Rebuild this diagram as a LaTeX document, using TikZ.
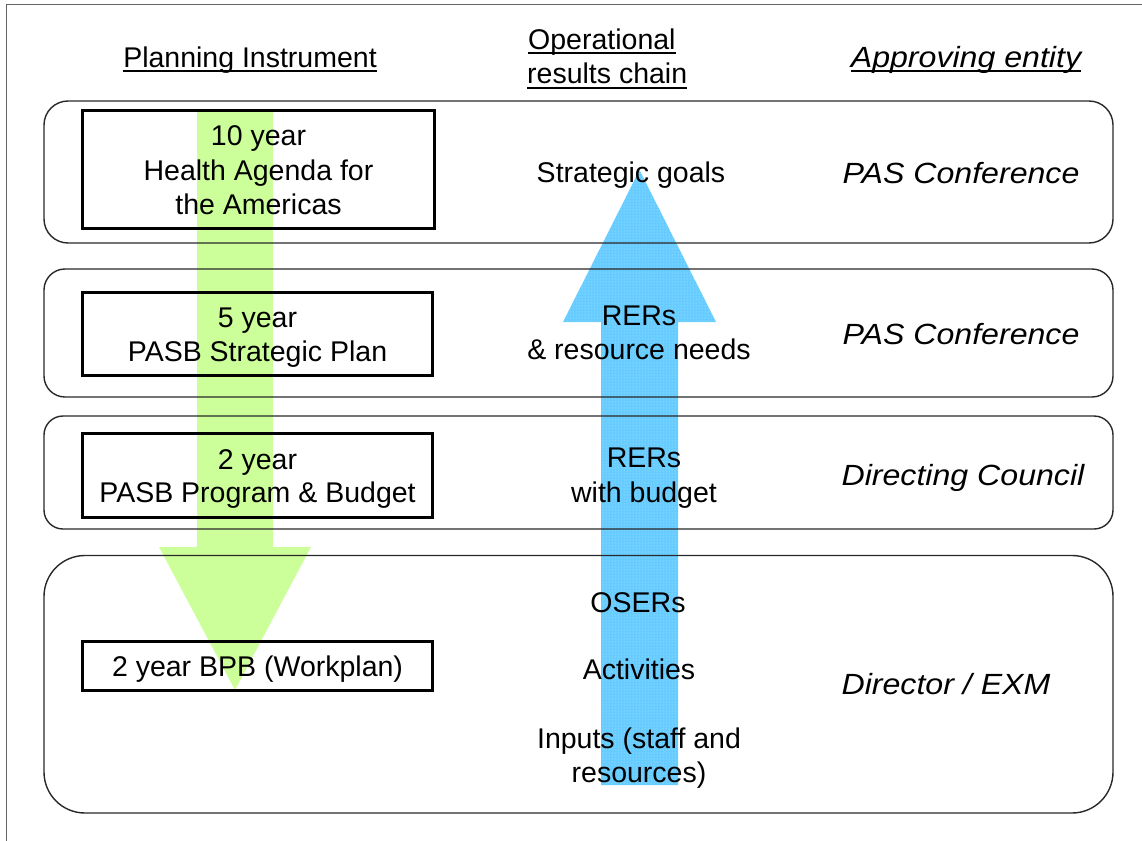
\documentclass[tikz,border=0pt]{standalone}
\usepackage{fontspec}
\setmainfont{Liberation Sans}
\usetikzlibrary{patterns}
\definecolor{greenA}{RGB}{204,255,153}
\definecolor{blueA}{RGB}{102,204,255}
\definecolor{laneC}{RGB}{40,40,40}
\definecolor{frameC}{RGB}{100,100,100}
\newcommand{\wideit}[1]{\scalebox{1.1}[1]{#1}}
\begin{document}
\begin{tikzpicture}[x=1pt,y=-1pt,
  txt/.style={inner sep=0pt, anchor=base, font=\fontsize{28.5}{34}\selectfont},
  itxt/.style={txt, font=\fontsize{29.2}{34}\selectfont\itshape},
  lane/.style={draw=laneC, line width=1.4pt},
  boxx/.style={draw=black, line width=3pt, inner sep=0pt},
  uline/.style={draw=black, line width=1.8pt},
  frame/.style={draw=frameC, line width=1.5pt}]
\useasboundingbox (0,0) rectangle (1142,840);
% outer frame
\coordinate (fbl) at (6.5,842);
\coordinate (ftl) at (6.5,4.5);
\coordinate (ftr) at (1144,4.5);
\draw[frame] (fbl) -- (ftl) -- (ftr);
% arrows (behind)
\fill[greenA] (197,110) -- (273,110) -- (273,547) -- (311,547) -- (235,690) -- (159,547) -- (197,547) -- cycle;
\fill[blueA] (601,785) -- (678,785) -- (678,322) -- (716,322) -- (639.5,170) -- (563,322) -- (601,322) -- cycle;
\fill[pattern=dots, pattern color=white!55!blueA] (601,785) -- (678,785) -- (678,322) -- (716,322) -- (639.5,170) -- (563,322) -- (601,322) -- cycle;
% lanes
\draw[lane, rounded corners=24pt] (44,101) rectangle (1113,243);
\draw[lane, rounded corners=21pt] (44,269) rectangle (1113,397);
\draw[lane, rounded corners=19pt] (44,416) rectangle (1113,529);
\draw[lane, rounded corners=41pt] (44,555.5) rectangle (1113,813);
% inner boxes
\node[boxx, minimum width=352pt, minimum height=118pt] (b1) at (258.5,169.5) {};
\node[boxx, minimum width=350pt, minimum height=83pt] (b2) at (257.5,333.5) {};
\node[boxx, minimum width=350pt, minimum height=84pt] (b3) at (257.5,475) {};
\node[boxx, minimum width=350pt, minimum height=49pt] (b4) at (257.5,666) {};
% headers
\node[txt] (hpi) at (250,68) {Planning Instrument};
\draw[uline] ([yshift=-3pt]hpi.base west) -- ([yshift=-3pt]hpi.base east);
\node[txt, anchor=base west] (hop1) at (528,49.5) {Operational};
\draw[uline] ([yshift=-3.5pt]hop1.base west) -- ([yshift=-3.5pt]hop1.base east);
\node[txt, anchor=base west] (hop2) at (527,84) {results chain};
\draw[uline] ([yshift=-4pt]hop2.base west) -- ([yshift=-4pt]hop2.base east);
\node[itxt] (hae) at (966,68) {\wideit{Approving entity}};
\draw[uline] ([yshift=-3pt]hae.base west) -- ([yshift=-3pt]hae.base east);
% planning instrument texts
\node[txt] (t1a) at (258.5,146) {10 year};
\node[txt] (t1b) at (258.5,180) {Health Agenda for};
\node[txt] (t1c) at (258.5,214) {the Americas};
\node[txt] (t2a) at (257.5,327) {5 year};
\node[txt] (t2b) at (257.5,361) {PASB Strategic Plan};
\node[txt] (t3a) at (257.5,469) {2 year};
\node[txt] (t3b) at (257.5,502) {PASB Program \& Budget};
\node[txt] (t4) at (257.5,676) {2 year BPB (Workplan)};
% results chain texts
\node[txt] (m1) at (631,182) {Strategic goals};
\node[txt] (m2a) at (639,325) {RERs};
\node[txt] (m2b) at (639,359) {\& resource needs};
\node[txt] (m3a) at (644,467) {RERs};
\node[txt] (m3b) at (644,502) {with budget};
\node[txt] (m4) at (638,612) {OSERs};
\node[txt] (m5) at (639,679) {Activities};
\node[txt] (m6a) at (639,748) {Inputs (staff and};
\node[txt] (m6b) at (639,782) {resources)};
% approving entities
\node[itxt] (a1) at (961,183) {\wideit{PAS Conference}};
\node[itxt] (a2) at (961,344) {\wideit{PAS Conference}};
\node[itxt] (a3) at (963,485) {\wideit{Directing Council}};
\node[itxt] (a4) at (946,694) {\wideit{Director / EXM}};
\end{tikzpicture}
\end{document}
